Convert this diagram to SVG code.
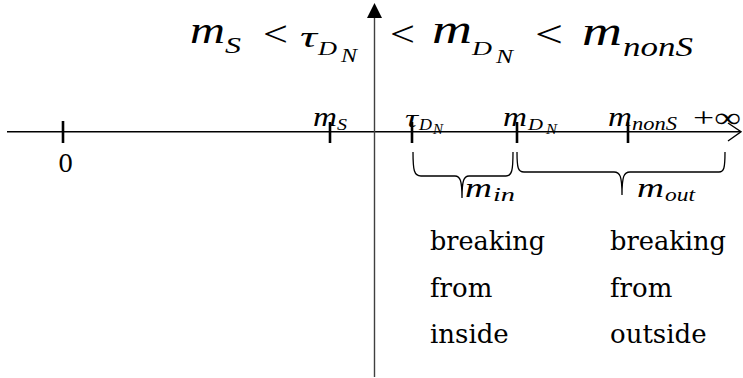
<svg xmlns="http://www.w3.org/2000/svg" width="743" height="378" viewBox="0 0 743 378">
<style>
.mi{font-family:"Liberation Serif","DejaVu Serif",serif;font-style:italic;fill:#000}
.rm{font-family:"Liberation Serif","DejaVu Serif",serif;fill:#000}
.tx{font-family:"DejaVu Serif","Liberation Serif",serif;font-size:26px;fill:#000}
.axis{stroke:#000;stroke-width:1.4;fill:none}
.tick{stroke:#000;stroke-width:2.6}
.brace{stroke:#000;stroke-width:1.3;fill:none}
</style>

<g id="connectors">
<line class="axis" x1="7" y1="131.7" x2="740" y2="131.7"/>
<path class="axis" d="M728,123 L741,131.7 L728,141"/>
<line x1="374.5" y1="377" x2="374.5" y2="18" stroke="#404040" stroke-width="1.4"/>
<path d="M374.5,3 L382,18 L367,18 Z" fill="#000"/>
</g>

<g id="formula">
<text class="mi" x="190" y="43" font-size="38" textLength="35" lengthAdjust="spacingAndGlyphs">m</text>
<text class="mi" x="225" y="53" font-size="24" textLength="16" lengthAdjust="spacingAndGlyphs">S</text>
<text class="rm" x="263" y="46" font-size="36" textLength="25" lengthAdjust="spacingAndGlyphs">&lt;</text>
<text class="mi" x="300" y="47" font-size="30" textLength="17" lengthAdjust="spacingAndGlyphs">τ</text>
<text class="mi" x="318" y="55" font-size="19" textLength="19" lengthAdjust="spacingAndGlyphs">D</text>
<text class="mi" x="341" y="62" font-size="18" textLength="16" lengthAdjust="spacingAndGlyphs">N</text>
<text class="rm" x="390" y="46" font-size="36" textLength="25" lengthAdjust="spacingAndGlyphs">&lt;</text>
<text class="mi" x="432" y="43" font-size="40" textLength="40" lengthAdjust="spacingAndGlyphs">m</text>
<text class="mi" x="472" y="55" font-size="19" textLength="20" lengthAdjust="spacingAndGlyphs">D</text>
<text class="mi" x="496" y="63" font-size="18" textLength="17" lengthAdjust="spacingAndGlyphs">N</text>
<text class="rm" x="535" y="47" font-size="38" textLength="28" lengthAdjust="spacingAndGlyphs">&lt;</text>
<text class="mi" x="582" y="45" font-size="40" textLength="40" lengthAdjust="spacingAndGlyphs">m</text>
<text class="mi" x="623" y="56" font-size="27" textLength="70" lengthAdjust="spacingAndGlyphs">nonS</text>
</g>

<g id="tick-0">
<line class="tick" x1="63" y1="121" x2="63" y2="143"/>
<text x="58" y="172" font-family="'DejaVu Serif', 'Liberation Serif', serif" font-size="24" fill="#000">0</text>
</g>
<g id="tick-mS">
<line class="tick" x1="330" y1="122" x2="330" y2="143"/>
<text class="mi" x="313" y="126" font-size="27" textLength="24" lengthAdjust="spacingAndGlyphs">m</text>
<text class="mi" x="337" y="130" font-size="17" textLength="10" lengthAdjust="spacingAndGlyphs">S</text>
</g>
<g id="tick-tau">
<line class="tick" x1="412" y1="122" x2="412" y2="143"/>
<text class="mi" x="405" y="127" font-size="26" textLength="13" lengthAdjust="spacingAndGlyphs">τ</text>
<text class="mi" x="419" y="130" font-size="16" textLength="13" lengthAdjust="spacingAndGlyphs">D</text>
<text class="mi" x="433" y="134" font-size="14" textLength="10" lengthAdjust="spacingAndGlyphs">N</text>
</g>
<g id="tick-mDN">
<line class="tick" x1="517" y1="122" x2="517" y2="143"/>
<text class="mi" x="503" y="126" font-size="27" textLength="24" lengthAdjust="spacingAndGlyphs">m</text>
<text class="mi" x="528" y="130" font-size="16" textLength="15" lengthAdjust="spacingAndGlyphs">D</text>
<text class="mi" x="546" y="134" font-size="14" textLength="11" lengthAdjust="spacingAndGlyphs">N</text>
</g>
<g id="tick-mnonS">
<line class="tick" x1="628" y1="122" x2="628" y2="143"/>
<text class="mi" x="608" y="126" font-size="27" textLength="24" lengthAdjust="spacingAndGlyphs">m</text>
<text class="mi" x="632" y="130" font-size="18" textLength="45" lengthAdjust="spacingAndGlyphs">nonS</text>
</g>
<g id="infinity">
<text class="rm" x="693" y="127" font-size="28" textLength="48" lengthAdjust="spacingAndGlyphs">+∞</text>
</g>

<g id="brace-in">
<path class="brace" d="M413,152 C413,170 414,176 421,176 L455,176 C460,176 462,180 462,198 C462,180 464,176 469,176 L506,176 C512,176 513,170 513,152"/>
<text class="mi" x="465" y="197" font-size="27" textLength="27" lengthAdjust="spacingAndGlyphs">m</text>
<text class="mi" x="493" y="201" font-size="19" textLength="22" lengthAdjust="spacingAndGlyphs">in</text>
</g>
<g id="brace-out">
<path class="brace" d="M517,152 C517,168 518,172 524,172 L614,172 C620,172 622,176 622,195 C622,176 624,172 630,172 L719,172 C724,172 725,168 725,152"/>
<text class="mi" x="637" y="197" font-size="27" textLength="27" lengthAdjust="spacingAndGlyphs">m</text>
<text class="mi" x="665" y="201" font-size="19" textLength="30" lengthAdjust="spacingAndGlyphs">out</text>
</g>

<g id="label-inside">
<text class="tx" x="430" y="250" textLength="115" lengthAdjust="spacingAndGlyphs">breaking</text>
<text class="tx" x="430" y="297">from</text>
<text class="tx" x="430" y="343">inside</text>
</g>
<g id="label-outside">
<text class="tx" x="610" y="250" textLength="116" lengthAdjust="spacingAndGlyphs">breaking</text>
<text class="tx" x="610" y="297">from</text>
<text class="tx" x="610" y="343">outside</text>
</g>
</svg>
